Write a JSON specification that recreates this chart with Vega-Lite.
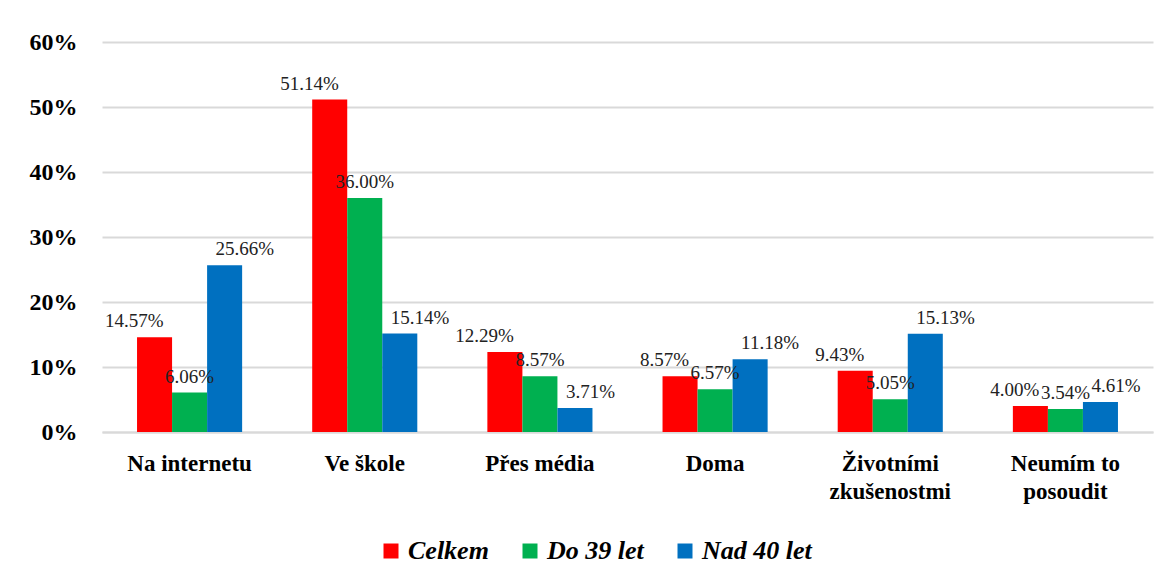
{
  "$schema": "https://vega.github.io/schema/vega-lite/v6.json",
  "autosize": {"type": "none"},
  "width": 1051,
  "height": 390,
  "padding": {"left": 102, "top": 42, "right": 16, "bottom": 151},
  "background": "white",
  "config": {"view": {"stroke": null}, "font": "Liberation Serif"},
  "data": {"values": [
    {"cat": "Na internetu", "serie": "Celkem", "v": 14.57},
    {"cat": "Na internetu", "serie": "Do 39 let", "v": 6.06},
    {"cat": "Na internetu", "serie": "Nad 40 let", "v": 25.66},
    {"cat": "Ve škole", "serie": "Celkem", "v": 51.14},
    {"cat": "Ve škole", "serie": "Do 39 let", "v": 36.00},
    {"cat": "Ve škole", "serie": "Nad 40 let", "v": 15.14},
    {"cat": "Přes média", "serie": "Celkem", "v": 12.29},
    {"cat": "Přes média", "serie": "Do 39 let", "v": 8.57},
    {"cat": "Přes média", "serie": "Nad 40 let", "v": 3.71},
    {"cat": "Doma", "serie": "Celkem", "v": 8.57},
    {"cat": "Doma", "serie": "Do 39 let", "v": 6.57},
    {"cat": "Doma", "serie": "Nad 40 let", "v": 11.18},
    {"cat": "Životními zkušenostmi", "serie": "Celkem", "v": 9.43},
    {"cat": "Životními zkušenostmi", "serie": "Do 39 let", "v": 5.05},
    {"cat": "Životními zkušenostmi", "serie": "Nad 40 let", "v": 15.13},
    {"cat": "Neumím to posoudit", "serie": "Celkem", "v": 4.00},
    {"cat": "Neumím to posoudit", "serie": "Do 39 let", "v": 3.54},
    {"cat": "Neumím to posoudit", "serie": "Nad 40 let", "v": 4.61}
  ]},
  "encoding": {
    "x": {
      "field": "cat", "type": "nominal", "sort": null, "title": null,
      "scale": {"paddingInner": 0.4, "paddingOuter": 0.2},
      "axis": {
        "labelAngle": 0, "labelFont": "Liberation Serif", "labelFontWeight": "bold",
        "labelFontSize": 23, "labelColor": "black", "labelPadding": 20, "labelLineHeight": 28,
        "ticks": false, "domainColor": "#d9d9d9", "domainWidth": 2, "labelBaseline": "top",
        "labelExpr": "datum.label == 'Životními zkušenostmi' ? ['Životními','zkušenostmi'] : datum.label == 'Neumím to posoudit' ? ['Neumím to','posoudit'] : datum.label"
      }
    },
    "xOffset": {"field": "serie", "type": "nominal", "sort": ["Celkem", "Do 39 let", "Nad 40 let"]},
    "y": {
      "field": "v", "type": "quantitative", "title": null,
      "scale": {"domain": [0, 60]},
      "axis": {
        "values": [0, 10, 20, 30, 40, 50, 60], "labelExpr": "datum.value + '%'",
        "labelFont": "Liberation Serif", "labelFontWeight": "bold", "labelFontSize": 24,
        "labelColor": "black", "labelPadding": 25, "ticks": false, "domain": false,
        "gridColor": "#d9d9d9", "gridWidth": 2
      }
    }
  },
  "layer": [
    {
      "mark": {"type": "bar"},
      "encoding": {
        "color": {
          "field": "serie", "type": "nominal", "title": null,
          "sort": ["Celkem", "Do 39 let", "Nad 40 let"],
          "scale": {"domain": ["Celkem", "Do 39 let", "Nad 40 let"], "range": ["#FF0000", "#00B050", "#0070C0"]},
          "legend": {
            "orient": "none", "legendX": 276, "legendY": 496, "direction": "horizontal", "symbolType": "square",
            "symbolSize": 225, "symbolStrokeWidth": 0, "labelFont": "Liberation Serif",
            "labelFontWeight": "bold", "labelFontStyle": "italic", "labelFontSize": 26,
            "labelColor": "black", "columnPadding": 28, "labelOffset": 4
          }
        }
      }
    },
    {
      "transform": [{"calculate": "format(datum.v, '.2f') + '%'", "as": "lbl"}, {"filter": "datum.serie == 'Celkem'"}],
      "mark": {"type": "text", "baseline": "bottom", "align": "right", "dx": 9, "dy": -6, "fontSize": 19, "font": "Liberation Serif", "color": "#222"},
      "encoding": {"text": {"field": "lbl", "type": "nominal"}, "detail": {"field": "serie"}}
    },
    {
      "transform": [{"calculate": "format(datum.v, '.2f') + '%'", "as": "lbl"}, {"filter": "datum.serie == 'Do 39 let'"}],
      "mark": {"type": "text", "baseline": "bottom", "align": "center", "dy": -6, "fontSize": 19, "font": "Liberation Serif", "color": "#222"},
      "encoding": {"text": {"field": "lbl", "type": "nominal"}, "detail": {"field": "serie"}}
    },
    {
      "transform": [{"calculate": "format(datum.v, '.2f') + '%'", "as": "lbl"}, {"filter": "datum.serie == 'Nad 40 let'"}],
      "mark": {"type": "text", "baseline": "bottom", "align": "left", "dx": -9, "dy": -6, "fontSize": 19, "font": "Liberation Serif", "color": "#222"},
      "encoding": {"text": {"field": "lbl", "type": "nominal"}, "detail": {"field": "serie"}}
    }
  ]
}
